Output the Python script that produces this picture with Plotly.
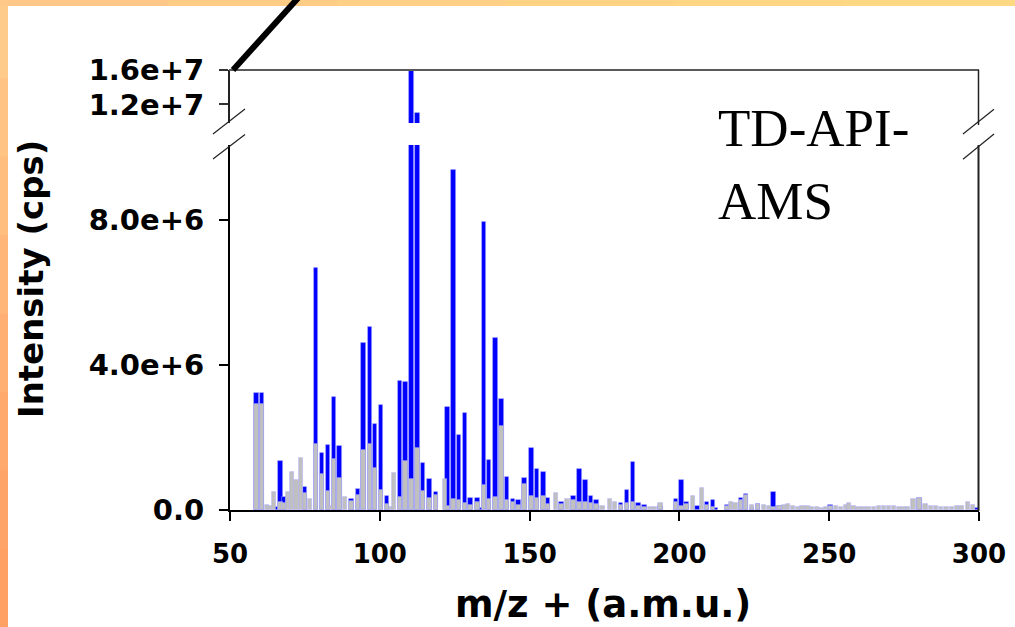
import plotly.graph_objects as go

# ---------------- data (intensity in units of 1e6 cps) ----------------
mz = [58.9, 60.7, 62.3, 63.4, 64.7, 65.7, 66.8, 68.1, 69.3, 70.7, 72.2, 73.7, 75.0, 76.6,
      78.6, 80.6, 82.6, 83.7, 84.7, 86.6, 88.4, 90.6, 92.8, 94.6, 96.7, 98.5, 100.5, 102.3,
      103.7, 104.8, 106.7, 108.6, 110.6, 112.6, 114.4, 116.6, 118.8, 121.8, 122.6, 124.6,
      126.5, 128.4, 130.3, 132.6, 133.7, 134.7, 136.4, 138.6, 140.6, 142.4, 144.4, 146.3,
      148.3, 150.6, 152.5, 154.6, 156.2, 158.9, 160.6, 162.6, 164.6, 166.6, 168.6, 170.5,
      172.3, 174.3, 176.8, 178.6, 180.6, 182.6, 184.6, 186.3, 188.3, 190.3, 191.9, 193.7,
      198.9, 200.7, 202.4, 204.5, 206.0, 207.6, 209.2, 211.2, 212.3, 216.1, 217.2, 218.7,
      220.6, 222.3, 224.3, 226.3, 228.3, 229.8, 231.4, 233.4, 234.9, 236.3, 238.0, 239.6,
      241.1, 242.7, 244.2, 245.9, 247.4, 248.9, 250.4, 252.2, 253.9, 255.6, 256.6, 258.1,
      259.8, 261.4, 263.1, 264.9, 266.7, 268.3, 270.0, 271.7, 273.2, 274.8, 276.4, 278.1,
      280.1, 282.1, 283.9, 285.6, 287.4, 289.1, 290.9, 292.6, 294.2, 296.3, 298.1, 299.5]

blue = [3.22, 3.22, 0.0, 0.0, 0.0, 0.07, 1.36, 0.37, 0.0, 0.0, 0.0, 0.0, 0.64, 0.0,
        6.68, 1.56, 1.79, 0.0, 3.13, 1.77, 0.0, 0.30, 0.58, 4.60, 5.04, 2.38, 2.90, 0.38,
        0.0, 0.0, 3.56, 3.53, 16.5, 11.0, 1.29, 0.85, 0.49, 0.0, 2.83, 9.38,
        2.06, 2.69, 0.32, 0.32, 0.05, 7.94, 1.38, 4.74, 3.05, 0.92, 0.30, 0.28,
        0.87, 1.70, 1.12, 1.04, 0.34, 0.0, 0.21, 0.0, 0.39, 1.13, 0.83, 0.39,
        0.28, 0.0, 0.0, 0.0, 0.20, 0.55, 1.32, 0.18, 0.14, 0.0, 0.0, 0.10,
        0.30, 0.82, 0.21, 0.0, 0.11, 0.0, 0.21, 0.28, 0.05, 0.14, 0.0, 0.0,
        0.34, 0.44, 0.05, 0.17, 0.0, 0.0, 0.50, 0.10, 0.0, 0.0, 0.0, 0.0,
        0.0, 0.0, 0.0, 0.0, 0.0, 0.0, 0.14, 0.0, 0.0, 0.0, 0.0, 0.0,
        0.0, 0.0, 0.0, 0.0, 0.0, 0.0, 0.0, 0.0, 0.0, 0.0, 0.0, 0.0,
        0.34, 0.0, 0.0, 0.0, 0.0, 0.0, 0.0, 0.0, 0.0, 0.0, 0.0, 0.05]

gray = [2.92, 2.92, 0.14, 0.10, 0.49, 0.0, 0.23, 0.19, 0.50, 1.06, 0.83, 1.43, 0.48, 0.30,
        1.82, 0.99, 0.53, 0.10, 1.40, 0.87, 0.35, 0.26, 0.41, 1.65, 1.82, 1.16, 0.56, 0.17,
        0.09, 1.01, 0.37, 1.36, 0.85, 1.71, 0.53, 0.32, 0.41, 0.86, 0.11, 0.30,
        0.28, 0.20, 0.14, 0.23, 0.0, 0.69, 0.30, 0.37, 2.33, 0.28, 0.23, 0.15,
        0.72, 0.39, 0.32, 0.40, 0.16, 0.46, 0.17, 0.30, 0.28, 0.22, 0.22, 0.20,
        0.17, 0.11, 0.30, 0.23, 0.14, 0.20, 0.22, 0.11, 0.07, 0.07, 0.07, 0.18,
        0.22, 0.12, 0.17, 0.39, 0.0, 0.62, 0.14, 0.09, 0.0, 0.11, 0.22, 0.20,
        0.28, 0.41, 0.14, 0.16, 0.13, 0.11, 0.07, 0.10, 0.13, 0.17, 0.10, 0.07,
        0.11, 0.10, 0.08, 0.08, 0.06, 0.07, 0.12, 0.10, 0.08, 0.13, 0.20, 0.11,
        0.08, 0.08, 0.08, 0.08, 0.11, 0.10, 0.11, 0.10, 0.08, 0.08, 0.08, 0.31,
        0.33, 0.16, 0.11, 0.10, 0.08, 0.07, 0.08, 0.10, 0.11, 0.21, 0.14, 0.0]

low_ticks = [0, 4, 8]
low_labels = ["0.0", "4.0e+6", "8.0e+6"]
high_ticks = [12, 16]
high_labels = ["1.2e+7", "1.6e+7"]
x_ticks = [50, 100, 150, 200, 250, 300]
x_labels = ["50", "100", "150", "200", "250", "300"]

# ---------------- layout helpers (pixel -> paper) ----------------
L, R, T, B = 230, 36, 70, 117
W, H = 1015, 627
PW, PH = W - L - R, H - T - B


def px(x):
    return (x - L) / PW


def py(y):
    return (H - B - y) / PH


blue_v = [v if v > 0 else None for v in blue]
gray_v = [v if v > 0 else None for v in gray]

bar_w = 1.45
outline = dict(color="rgba(170,170,255,0.6)", width=0.8)

fig = go.Figure()
fig.add_trace(go.Bar(x=mz, y=blue_v, width=bar_w, marker=dict(color="#0000FF", line=outline),
                     xaxis="x", yaxis="y", showlegend=False))
fig.add_trace(go.Bar(x=mz, y=gray_v, width=bar_w, marker=dict(color="#C0C0C0", line=outline),
                     xaxis="x", yaxis="y", showlegend=False))
fig.add_trace(go.Bar(x=mz, y=blue_v, width=bar_w, marker=dict(color="#0000FF", line=outline),
                     xaxis="x", yaxis="y2", showlegend=False))

ytickfont = dict(family="DejaVu Sans", size=29, color="black")
xtickfont = dict(family="DejaVu Sans", size=26, color="black")
low_top = py(145)
high_bot = py(123)

fig.update_layout(
    width=W, height=H,
    margin=dict(l=L, r=R, t=T, b=B, autoexpand=False),
    paper_bgcolor="white", plot_bgcolor="white",
    barmode="overlay", bargap=0,
    font=dict(family="DejaVu Sans", color="black"),
    xaxis=dict(range=[50, 300], tickvals=x_ticks, ticktext=["<b>%s</b>" % s for s in x_labels],
               ticks="outside", ticklen=9, tickwidth=2,
               tickcolor="black", showline=True, linecolor="black", linewidth=2,
               showgrid=False, zeroline=False, tickfont=xtickfont, ticklabelstandoff=11,
               anchor="y"),
    yaxis=dict(domain=[0, low_top], range=[0, 10.07], tickvals=low_ticks,
               ticktext=["<b>%s</b>" % s for s in low_labels],
               ticks="outside", ticklen=9, tickwidth=2, tickcolor="black", showline=True,
               linecolor="black", linewidth=2, showgrid=False, zeroline=False,
               tickfont=ytickfont, ticklabelstandoff=9, anchor="x"),
    yaxis2=dict(domain=[high_bot, 1], range=[9.85, 16.001], tickvals=high_ticks,
                ticktext=["<b>%s</b>" % s for s in high_labels], ticks="outside", ticklen=9,
                tickwidth=2, tickcolor="#333", showline=True, linecolor="#222", linewidth=2,
                showgrid=False, zeroline=False, tickfont=ytickfont, ticklabelstandoff=9,
                anchor="x"),
)

shapes = []
# orange frame strips (gradient imitation)
left_cols = ["#FFCB8A", "#FFC484", "#FFBD7E", "#FFB678", "#FFAF72", "#FFA96C", "#FFA468", "#FFA064"]
n = len(left_cols)
for i, c in enumerate(left_cols):
    shapes.append(dict(type="rect", xref="paper", yref="paper", x0=px(-1), x1=px(8),
                       y0=py(H * (i + 1) / n + 1), y1=py(H * i / n), fillcolor=c,
                       line=dict(width=0), layer="below"))
top_cols = ["#FFC888", "#FFCC86", "#FFD085", "#FFD384", "#FFD684", "#FFD884"]
m = len(top_cols)
for i, c in enumerate(top_cols):
    shapes.append(dict(type="rect", xref="paper", yref="paper", x0=px(W * i / m - 1),
                       x1=px(W * (i + 1) / m + 1), y0=py(6), y1=py(-1), fillcolor=c,
                       line=dict(width=0), layer="below"))
# top frame line and right frame line (with break)
shapes.append(dict(type="line", xref="paper", yref="paper", x0=px(229), x1=px(979),
                   y0=1, y1=1, line=dict(color="#5a5a5a", width=2)))
shapes.append(dict(type="line", xref="paper", yref="paper", x0=px(978.5), x1=px(978.5),
                   y0=py(70), y1=py(125), line=dict(color="#222", width=1.5)))
shapes.append(dict(type="line", xref="paper", yref="paper", x0=px(978.5), x1=px(978.5),
                   y0=py(145), y1=py(511), line=dict(color="#222", width=2)))
# break marks
for (x0, y0, x1, y1) in [(213, 134, 245, 109), (213, 159, 245, 134.5),
                         (963, 134, 994, 109.3), (963, 159.3, 994, 134)]:
    shapes.append(dict(type="line", xref="paper", yref="paper", x0=px(x0), y0=py(y0),
                       x1=px(x1), y1=py(y1), line=dict(color="#222", width=1.2)))
# thick diagonal line
shapes.append(dict(type="line", xref="paper", yref="paper", x0=px(233), y0=py(70),
                   x1=px(299), y1=py(-3), line=dict(color="black", width=6)))
fig.update_layout(shapes=shapes)

fig.add_annotation(text="<b>Intensity (cps)</b>", xref="paper", yref="paper",
                   x=px(31), y=py(279), textangle=-90, showarrow=False,
                   font=dict(family="DejaVu Sans", size=34, color="black"),
                   xanchor="center", yanchor="middle")
fig.add_annotation(text="<b>m/z + (a.m.u.)</b>", xref="paper", yref="paper",
                   x=px(603), y=py(604), showarrow=False,
                   font=dict(family="DejaVu Sans", size=37, color="black"),
                   xanchor="center", yanchor="middle")
fig.add_annotation(text="TD-API-", xref="paper", yref="paper", x=px(716), y=py(128),
                   showarrow=False, xanchor="left", yanchor="middle",
                   font=dict(family="Liberation Serif", size=53, color="black"))
fig.add_annotation(text="AMS", xref="paper", yref="paper", x=px(716), y=py(201),
                   showarrow=False, xanchor="left", yanchor="middle",
                   font=dict(family="Liberation Serif", size=53, color="black"))

fig.write_html("out.html", config={"displayModeBar": False},
               post_script="document.body.style.margin='0';"
                           "document.body.style.overflow='hidden';")
